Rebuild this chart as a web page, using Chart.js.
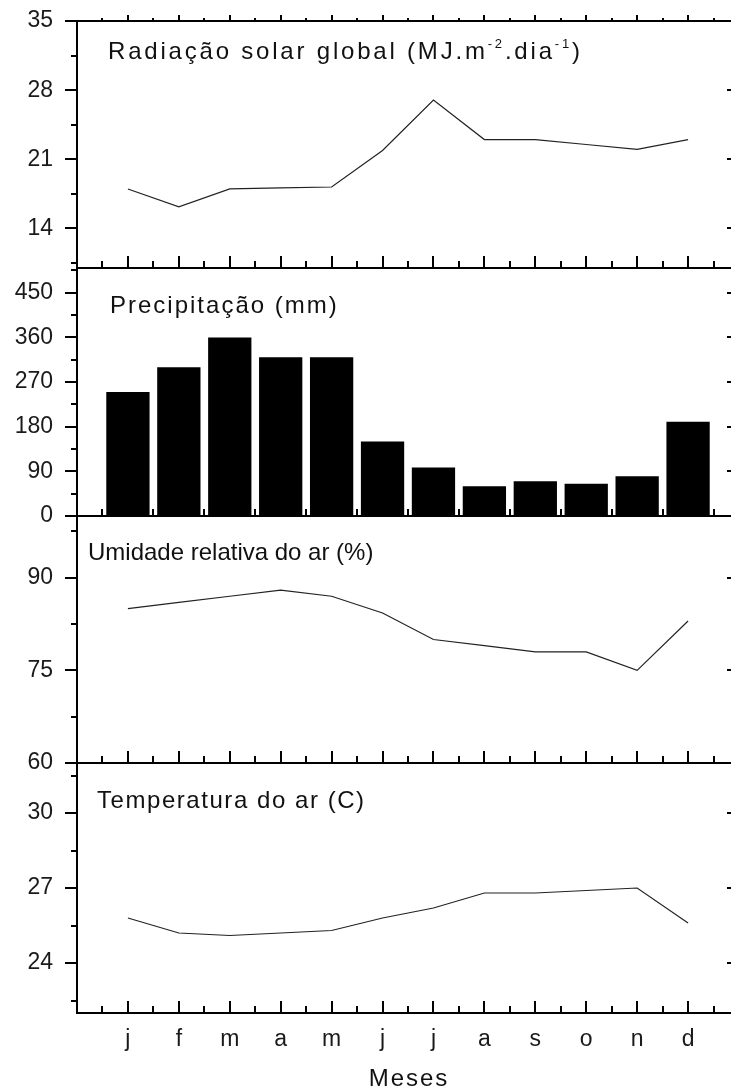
<!DOCTYPE html>
<html>
<head>
<meta charset="utf-8">
<script src="https://cdn.jsdelivr.net/npm/chart.js@4/dist/chart.umd.min.js"></script>
<style>
  html, body { margin: 0; padding: 0; background: #fff; overflow: hidden; }
  #wrap { width: 731px; height: 1092px; overflow: hidden; }
</style>
</head>
<body>
<div id="wrap"><canvas id="chart" width="750" height="1092"></canvas></div>
<script>
// Monthly climate panels (radiation, rain, humidity, temperature)
const months = ['j', 'f', 'm', 'a', 'm', 'j', 'j', 'a', 's', 'o', 'n', 'd'];
const radiation = [18.0, 16.2, 18.0, 18.1, 18.2, 21.9, 27.0, 23.0, 23.0, 22.5, 22.0, 23.0];
const precipitation = [250, 300, 360, 320, 320, 150, 98, 60, 70, 65, 80, 190];
const humidity = [85, 86, 87, 88, 87, 84.3, 80, 79, 78, 78, 75, 83];
const temperature = [25.8, 25.2, 25.1, 25.2, 25.3, 25.8, 26.2, 26.8, 26.8, 26.9, 27.0, 25.6];

const radTicks = [14, 21, 28, 35];
const precTicks = [0, 90, 180, 270, 360, 450];
const humTicks = [60, 75, 90];
const tempTicks = [24, 27, 30];

const FONT = "'Liberation Sans', Arial, sans-serif";

// titles drawn inside each panel; [text, superscript?]
const panels = [
    { id: 'yRad', ticks: radTicks, min: 10, max: 35, weight: 247,
      title: [['Radiação solar global (MJ.m', 0], ['-2', 1], ['.dia', 0], ['-1', 1], [')', 0]],
      tx: 108, ty: 38, spacing: 2.8 },
    { id: 'yPrec', ticks: precTicks, min: 0, max: 500, weight: 248,
      title: [['Precipitação (mm)', 0]], tx: 110, ty: 45, spacing: 2.0 },
    { id: 'yHum', ticks: humTicks, min: 60, max: 100, weight: 247,
      title: [['Umidade relativa do ar (%)', 0]], tx: 88, ty: 44, spacing: 0 },
    { id: 'yTemp', ticks: tempTicks, min: 22, max: 32, weight: 250,
      title: [['Temperatura do ar (C)', 0]], tx: 97, ty: 45, spacing: 1.55 }
];

const toXY = arr => arr.map((v, i) => ({ x: i + 1, y: v }));

// axis frame, inward/outward ticks and panel captions
const framePlugin = {
    id: 'frame',
    afterDraw(chart) {
        const ctx = chart.ctx;
        const xs = chart.scales.x;
        const area = chart.chartArea;
        const L = Math.round(area.left), R = Math.round(area.right);
        ctx.save();
        ctx.strokeStyle = '#000';
        ctx.lineWidth = 2;
        ctx.beginPath();
        ctx.moveTo(L, Math.round(area.top) - 1);
        ctx.lineTo(L, Math.round(area.bottom) + 1);
        ctx.stroke();

        panels.forEach((p, idx) => {
            const s = chart.scales[p.id];
            const top = Math.round(s.top), bot = Math.round(s.bottom);
            ctx.beginPath();
            if (idx === 0) { ctx.moveTo(L - 1, top); ctx.lineTo(R + 1, top); }
            ctx.moveTo(L - 1, bot); ctx.lineTo(R + 1, bot);
            ctx.stroke();

            // left ticks (major out 12, minor out 6) and right ticks (major in)
            const step = p.ticks[1] - p.ticks[0];
            const half = step / 2;
            let v = p.ticks[0] - Math.floor((p.ticks[0] - p.min) / half) * half;
            ctx.beginPath();
            for (; v <= p.max + 1e-9; v += half) {
                const y = Math.round(s.getPixelForValue(v));
                const major = Math.abs((v - p.ticks[0]) / step - Math.round((v - p.ticks[0]) / step)) < 1e-6;
                ctx.moveTo(L, y);
                ctx.lineTo(L - (major ? 12 : 6), y);
                if (major) { ctx.moveTo(R, y); ctx.lineTo(R - 12, y); }
            }
            // bottom ticks pointing up into the panel
            for (let m = 0.5; m < months.length + 1; m += 0.5) {
                const x = Math.round(xs.getPixelForValue(m));
                const major = Number.isInteger(m);
                ctx.moveTo(x, bot);
                ctx.lineTo(x, bot - (major ? 12 : 7));
                if (idx === 0) {
                    ctx.moveTo(x, top);
                    ctx.lineTo(x, top - (major ? 6 : 3));
                }
            }
            ctx.stroke();

            // caption
            ctx.fillStyle = '#111';
            ctx.textBaseline = 'alphabetic';
            ctx.textAlign = 'left';
            ctx.letterSpacing = p.spacing + 'px';
            let cx = p.tx;
            const base = s.top + p.ty;
            p.title.forEach(([txt, sup]) => {
                ctx.font = (sup ? '13px ' : '24px ') + FONT;
                ctx.fillText(txt, cx, sup ? base - 11 : base);
                cx += ctx.measureText(txt).width;
            });
        });

        // x axis title
        ctx.font = '24px ' + FONT;
        ctx.letterSpacing = '2px';
        const w = ctx.measureText('Meses').width - 2;
        ctx.fillStyle = '#111';
        ctx.fillText('Meses', (area.left + area.right) / 2 - w / 2, 1086);
        ctx.restore();
    }
};

const yScale = p => ({
    type: 'linear',
    position: 'left',
    stack: 'panels',
    stackWeight: p.weight,
    min: p.min,
    max: p.max,
    grid: { display: false, drawTicks: false },
    border: { display: false },
    afterBuildTicks: s => { s.ticks = p.ticks.map(v => ({ value: v })); },
    afterFit: s => { s.width = 77; s.paddingTop = 0; s.paddingBottom = 0; },
    ticks: {
        autoSkip: false,
        padding: 24,
        color: '#1a1a1a',
        font: { family: FONT, size: 23 }
    }
});

const scales = {
    x: {
        type: 'linear',
        min: 0,
        max: months.length + 1,
        offset: false,
        grid: { display: false, drawTicks: false },
        border: { display: false },
        afterBuildTicks: s => { s.ticks = months.map((m, i) => ({ value: i + 1 })); },
        afterFit: s => { s.height = 79; s.paddingLeft = 0; s.paddingRight = 0; },
        ticks: {
            autoSkip: false,
            maxRotation: 0,
            padding: 13,
            color: '#1a1a1a',
            font: { family: FONT, size: 23 },
            callback: v => months[v - 1] || ''
        }
    }
};
// stacked axes are laid out bottom-up, so add the bottom panel first
panels.slice().reverse().forEach(p => { scales[p.id] = yScale(p); });

const lineStyle = {
    type: 'line',
    borderColor: '#222',
    borderWidth: 1.2,
    pointRadius: 0,
    tension: 0,
    fill: false
};

new Chart(document.getElementById('chart'), {
    type: 'line',
    data: {
        datasets: [
            Object.assign({ label: 'Radiação', data: toXY(radiation), yAxisID: 'yRad' }, lineStyle),
            {
                type: 'bar',
                label: 'Precipitação',
                data: toXY(precipitation),
                yAxisID: 'yPrec',
                backgroundColor: '#000',
                borderWidth: 0,
                categoryPercentage: 1,
                barPercentage: 0.85
            },
            Object.assign({ label: 'Umidade', data: toXY(humidity), yAxisID: 'yHum' }, lineStyle),
            Object.assign({ label: 'Temperatura', data: toXY(temperature), yAxisID: 'yTemp' }, lineStyle)
        ]
    },
    options: {
        responsive: false,
        animation: false,
        layout: { padding: { top: 21, right: 11, left: 0, bottom: 0 } },
        plugins: {
            legend: { display: false },
            tooltip: { enabled: false }
        },
        scales: scales
    },
    plugins: [framePlugin]
});
</script>
</body>
</html>
